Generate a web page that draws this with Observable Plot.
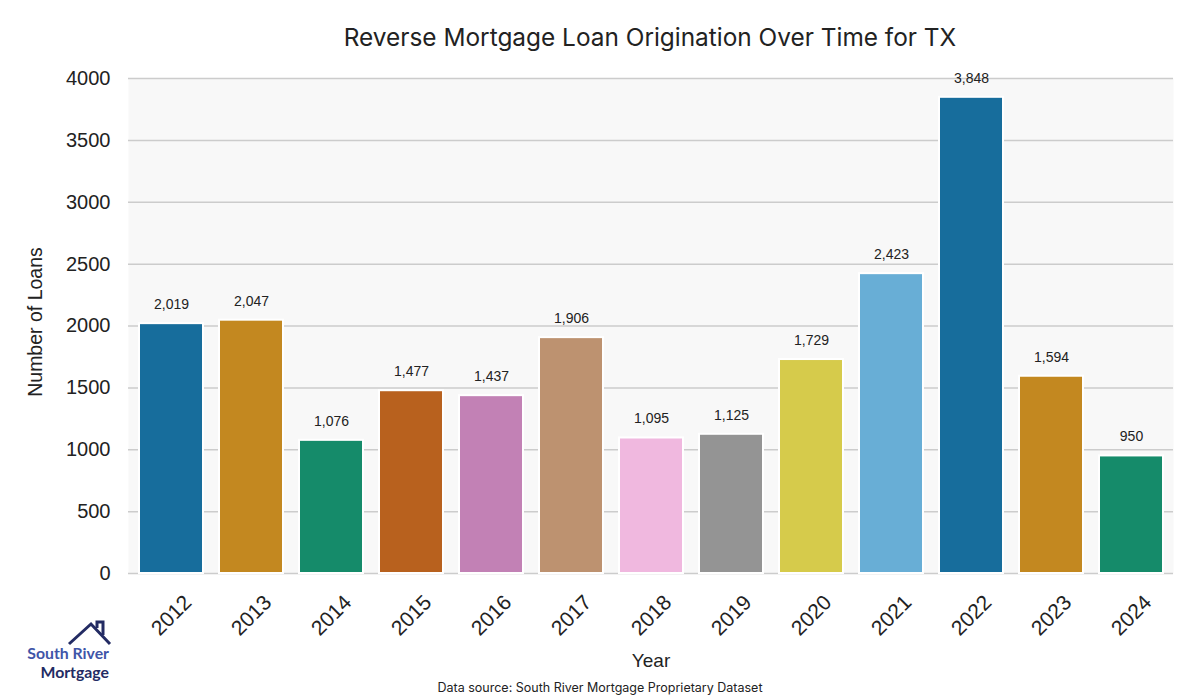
<!DOCTYPE html>
<html>
<head>
<meta charset="utf-8">
<script src="https://cdn.jsdelivr.net/npm/d3@7"></script>
<script src="https://cdn.jsdelivr.net/npm/@observablehq/plot@0.6"></script>
<style>
  html, body { margin: 0; padding: 0; background: #fff; }
  #wrap { position: relative; width: 1200px; height: 700px; overflow: hidden; }
  #title { position: absolute; left: 300px; width: 700px; top: 22px; text-align: center;
    font-family: Inter, "Open Sans", sans-serif; font-size: 24.4px; color: #222; letter-spacing: 0px; }
  #caption { position: absolute; left: 300px; width: 600px; top: 680px; text-align: center;
    font-family: Inter, "Open Sans", sans-serif; font-size: 12.5px; color: #222; }
  #logo { position: absolute; left: 18px; top: 618px; width: 100px; height: 64px; }
  #chart { position: absolute; left: 0; top: 0; }
</style>
</head>
<body>
<div id="wrap">
  <div id="chart"></div>
  <div id="title">Reverse Mortgage Loan Origination Over Time for TX</div>
  <div id="caption">Data source: South River Mortgage Proprietary Dataset</div>
  <svg id="logo" width="100" height="64" viewBox="0 0 100 64">
    <path d="M51 26 L73 6 L92 26" fill="none" stroke="#232b63" stroke-width="3"/>
    <path d="M79 10 L79 4 L85 4 L85 17" fill="none" stroke="#232b63" stroke-width="3"/>
    <text x="91" y="41" text-anchor="end" font-family="Lato, 'Open Sans', sans-serif" font-weight="bold" font-size="15.8" fill="#3f55a8">South River</text>
    <text x="91" y="60" text-anchor="end" font-family="Lato, 'Open Sans', sans-serif" font-weight="bold" font-size="15.8" fill="#232b63">Mortgage</text>
  </svg>
</div>
<script>
const years = ["2012","2013","2014","2015","2016","2017","2018","2019","2020","2021","2022","2023","2024"];
const loans = [2019, 2047, 1076, 1477, 1437, 1906, 1095, 1125, 1729, 2423, 3848, 1594, 950];
const colors = ["#176d9c","#c38820","#158b6a","#b8611e","#c281b5","#bd9270","#f0b8df","#949494","#d6cb4b","#68aed6","#176d9c","#c38820","#158b6a"];
const yTicks = [0, 500, 1000, 1500, 2000, 2500, 3000, 3500, 4000];

const data = years.map((y, i) => ({year: y, value: loans[i], color: colors[i]}));
const fmt = d3.format(",");

const chart = Plot.plot({
  width: 1200,
  height: 700,
  marginLeft: 128,
  marginRight: 27,
  marginTop: 78,
  marginBottom: 127,
  style: {background: "transparent", fontFamily: "'Liberation Sans', Arial, sans-serif", color: "#222"},
  x: {domain: years, paddingInner: 0.2, paddingOuter: 0.1, label: null},
  y: {domain: [0, 4000], label: null},
  marks: [
    Plot.frame({fill: "#f8f8f8", stroke: null}),
    Plot.gridY(yTicks, {stroke: "#cccccc", strokeOpacity: 1, strokeWidth: 1.5}),
    Plot.barY(data, {x: "year", y: "value", fill: "color", stroke: "white", strokeWidth: 2}),
    Plot.text(data, {x: "year", y: "value", text: d => fmt(d.value), dy: -19, fontSize: 14, fill: "#222"}),
    Plot.axisY(yTicks, {tickSize: 0, tickPadding: 18, fontSize: 20, tickFormat: d3.format("d"), label: null}),
    Plot.axisX({tickSize: 0, tickRotate: -45, textAnchor: "middle", lineAnchor: "middle", tickPadding: 42, fontSize: 21, label: null}),
    Plot.text(["Number of Loans"], {frameAnchor: "left", textAnchor: "middle", dx: -93, dy: -4, rotate: -90, fontSize: 19.5, fill: "#222"}),
    Plot.text(["Year"], {frameAnchor: "bottom", dy: 93, fontSize: 19, fill: "#222"})
  ]
});
document.getElementById("chart").appendChild(chart);
</script>
</body>
</html>
